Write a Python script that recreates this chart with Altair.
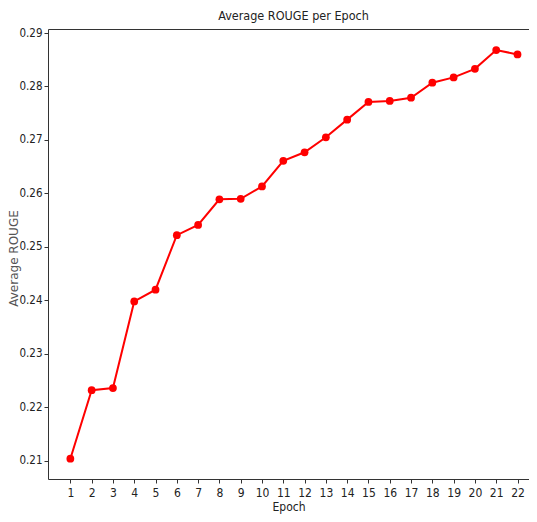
import altair as alt
import pandas as pd

epochs = list(range(1, 23))
avg_rouge = [0.2104, 0.2232, 0.2236, 0.2398, 0.2420, 0.2522, 0.2541, 0.2589,
             0.2590, 0.2613, 0.2661, 0.2677, 0.2705, 0.2738, 0.2771, 0.2773,
             0.2779, 0.2807, 0.2817, 0.2833, 0.2868, 0.2860]
y_ticks = [0.21, 0.22, 0.23, 0.24, 0.25, 0.26, 0.27, 0.28, 0.29]

df = pd.DataFrame({"Epoch": epochs, "Average ROUGE": avg_rouge})

NARROW = "DejaVu Sans Condensed, sans-serif"

x_scale = alt.Scale(domain=[-0.05, 22.54], nice=False, zero=False)
y_scale = alt.Scale(domain=[0.2066, 0.29075], nice=False, zero=False)

x_bottom = alt.X(
    "Epoch:Q", scale=x_scale,
    axis=alt.Axis(values=epochs, format="d", title="Epoch", grid=False,
                  labelFont=NARROW, labelFontSize=12, labelColor="#222",
                  titleFont=NARROW, titleFontSize=12, titleFontWeight="normal",
                  titleColor="#222", tickSize=4, tickColor="#333",
                  domainColor="#333", labelPadding=4, titlePadding=3,
                  labelFlush=False, labelOverlap=False),
)
y_left = alt.Y(
    "Average ROUGE:Q", scale=y_scale,
    axis=alt.Axis(values=y_ticks, format=".2f", title="Average ROUGE", grid=False,
                  labelFont=NARROW, labelFontSize=11.5, labelColor="#222",
                  titleFont="DejaVu Sans", titleFontSize=12, titleFontWeight="normal",
                  titleColor="#555", titleX=-35, titleY=229, titleAngle=270,
                  titleAlign="center", titleBaseline="middle",
                  tickSize=4, tickColor="#333",
                  domainColor="#333", labelPadding=2,
                  labelFlush=False, labelOverlap=False),
)

line = alt.Chart(df).mark_line(color="#ff0000", strokeWidth=2).encode(
    x=x_bottom, y=y_left
)
points = alt.Chart(df).mark_point(filled=True, color="#ff0000", size=60, opacity=1).encode(
    x=alt.X("Epoch:Q", scale=x_scale,
            axis=alt.Axis(orient="top", labels=False, ticks=False, title=None,
                          grid=False, domainColor="#333")),
    y=alt.Y("Average ROUGE:Q", scale=y_scale),
)

chart = alt.layer(line, points).resolve_axis(x="independent").properties(
    width=481, height=450,
    title=alt.TitleParams("Average ROUGE per Epoch", font=NARROW, fontSize=12.5,
                          fontWeight="normal", color="#222", anchor="middle",
                          offset=5, dx=5),
    autosize=alt.AutoSizeParams(type="none"),
    padding={"left": 40, "top": 21, "right": 0, "bottom": 35},
).configure_view(stroke=None)

chart.save("out.html", embed_options={"renderer": "svg", "actions": False})
